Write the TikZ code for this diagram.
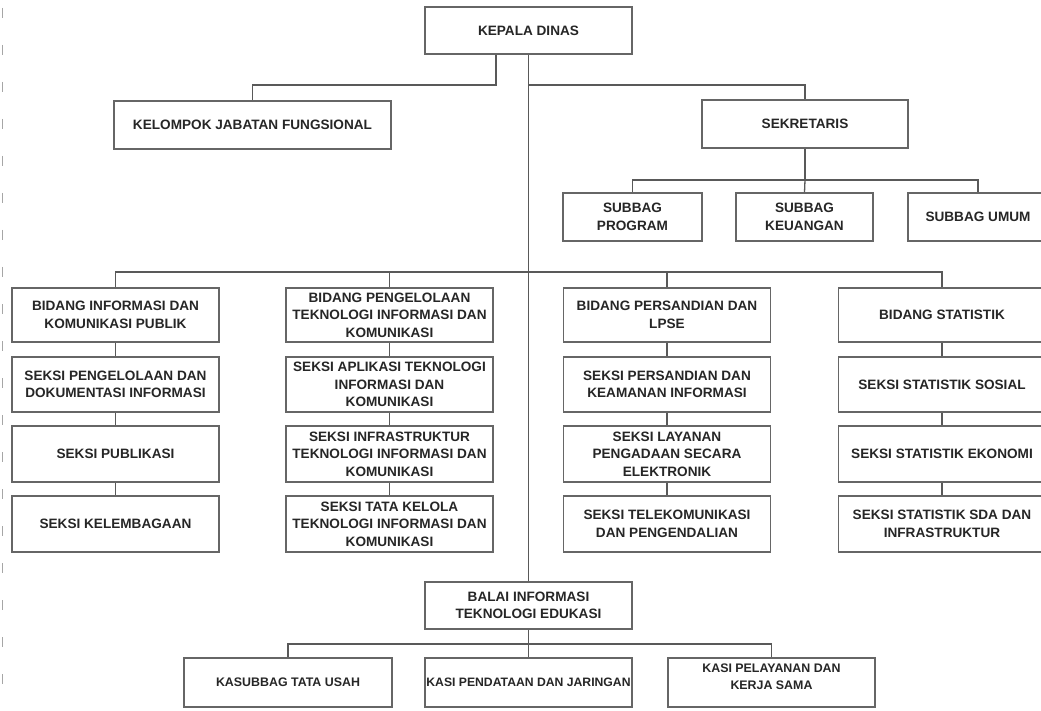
\documentclass[tikz,border=0pt]{standalone}
\usepackage{fontspec}
\setmainfont{Liberation Sans}
\begin{document}
\begin{tikzpicture}[x=1pt,y=-1pt,
  box/.style={draw=black!60, line width=1.3pt, fill=white, minimum width=207pt,
    minimum height=55pt, inner sep=2pt, align=center,
    font=\fontsize{13.6}{17.5}\selectfont\bfseries, text=black!85},
  smallbox/.style={box, font=\fontsize{12.4}{17}\selectfont\bfseries},
  conn/.style={draw=black!65, line width=1.3pt},
  edge/.style={draw=black!35, line width=1pt, dash pattern=on 10pt off 27pt}]
\path[use as bounding box] (0,0) rectangle (1041,711);
\fill[white] (0,0) rectangle (1041,711);
\clip (0,0) rectangle (1041,711);

\draw[edge] (2,8) -- (2,711);

% top
\node[box, minimum height=47pt] (KD) at (528.5,30.5) {KEPALA DINAS};
\node[box, minimum width=277pt, minimum height=48pt] (KJF) at (252.5,125) {KELOMPOK JABATAN FUNGSIONAL};
\node[box, minimum width=206pt, minimum height=48pt] (SEK) at (805,124) {SEKRETARIS};
\node[box, minimum width=139pt, minimum height=48pt] (SP) at (632.5,217) {SUBBAG\\PROGRAM};
\node[box, minimum width=137pt, minimum height=48pt] (SK) at (804.5,217) {SUBBAG\\KEUANGAN};
\node[box, minimum width=140pt, minimum height=48pt] (SU) at (978,217) {SUBBAG UMUM};

% column 1
\node[box, minimum height=54pt] (A1) at (115.5,315) {BIDANG INFORMASI DAN\\KOMUNIKASI PUBLIK};
\node[box] (A2) at (115.5,384.5) {SEKSI PENGELOLAAN DAN\\DOKUMENTASI INFORMASI};
\node[box, minimum height=56pt] (A3) at (115.5,454) {SEKSI PUBLIKASI};
\node[box, minimum height=56pt] (A4) at (115.5,524) {SEKSI KELEMBAGAAN};
% column 2
\node[box, minimum height=54pt] (B1) at (389.5,315) {BIDANG PENGELOLAAN\\TEKNOLOGI INFORMASI DAN\\KOMUNIKASI};
\node[box] (B2) at (389.5,384.5) {SEKSI APLIKASI TEKNOLOGI\\INFORMASI DAN\\KOMUNIKASI};
\node[box, minimum height=56pt] (B3) at (389.5,454) {SEKSI INFRASTRUKTUR\\TEKNOLOGI INFORMASI DAN\\KOMUNIKASI};
\node[box, minimum height=56pt] (B4) at (389.5,524) {SEKSI TATA KELOLA\\TEKNOLOGI INFORMASI DAN\\KOMUNIKASI};
% column 3
\node[box, minimum height=54pt] (C1) at (667,315) {BIDANG PERSANDIAN DAN\\LPSE};
\node[box] (C2) at (667,384.5) {SEKSI PERSANDIAN DAN\\KEAMANAN INFORMASI};
\node[box, minimum height=56pt] (C3) at (667,454) {SEKSI LAYANAN\\PENGADAAN SECARA\\ELEKTRONIK};
\node[box, minimum height=56pt] (C4) at (667,524) {SEKSI TELEKOMUNIKASI\\DAN PENGENDALIAN};
% column 4
\node[box, minimum height=54pt] (D1) at (942,315) {BIDANG STATISTIK};
\node[box] (D2) at (942,384.5) {SEKSI STATISTIK SOSIAL};
\node[box, minimum height=56pt] (D3) at (942,454) {SEKSI STATISTIK EKONOMI};
\node[box, minimum height=56pt] (D4) at (942,524) {SEKSI STATISTIK SDA DAN\\INFRASTRUKTUR};

% bottom
\node[box, minimum height=47pt] (BT) at (528.5,605.5) {BALAI INFORMASI\\TEKNOLOGI EDUKASI};
\node[smallbox, minimum width=208pt, minimum height=49pt] (KTU) at (288,682.5) {KASUBBAG TATA USAH};
\node[smallbox, font=\fontsize{12.2}{17}\selectfont\bfseries, inner sep=0pt, minimum height=49pt] (KPJ) at (528.5,682.5) {KASI PENDATAAN DAN JARINGAN};
\node[smallbox, minimum height=49pt] (KPK) at (771.5,682.5) {};
\node[align=center, font=\fontsize{12.4}{17}\selectfont\bfseries, text=black!85, inner sep=0pt] (KPKt) at (771.5,676.5) {KASI PELAYANAN DAN\\KERJA SAMA};

% connectors top
\coordinate (j1) at (496,85);
\coordinate (j2) at (528.5,85);
\coordinate (s1) at (805,180);
\coordinate (h) at (528.5,272);
\coordinate (b1) at (528.5,644);

\draw[conn] (KD.south -| j1) -- (j1) -| (KJF.north);
\draw[conn] (KD.south) -- (BT.north);
\draw[conn] (j2) -| (SEK.north);
\draw[conn] (SEK.south) -- (s1);
\draw[conn] (SP.north) -- (SP.north |- s1) -- (SU.north |- s1) -- (SU.north);
\draw[conn] (s1) -- (SK.north);

% main horizontal
\draw[conn] (A1.north) -- (A1.north |- h) -- (D1.north |- h) -- (D1.north);
\draw[conn] (B1.north) -- (B1.north |- h);
\draw[conn] (C1.north) -- (C1.north |- h);

% column chains
\foreach \c in {A,B,C,D}{
  \draw[conn] (\c1.south) -- (\c2.north);
  \draw[conn] (\c2.south) -- (\c3.north);
  \draw[conn] (\c3.south) -- (\c4.north);
}

% bottom
\draw[conn] (BT.south) -- (KPJ.north);
\draw[conn] (KTU.north) -- (KTU.north |- b1) -- (KPK.north |- b1) -- (KPK.north);
\end{tikzpicture}
\end{document}
